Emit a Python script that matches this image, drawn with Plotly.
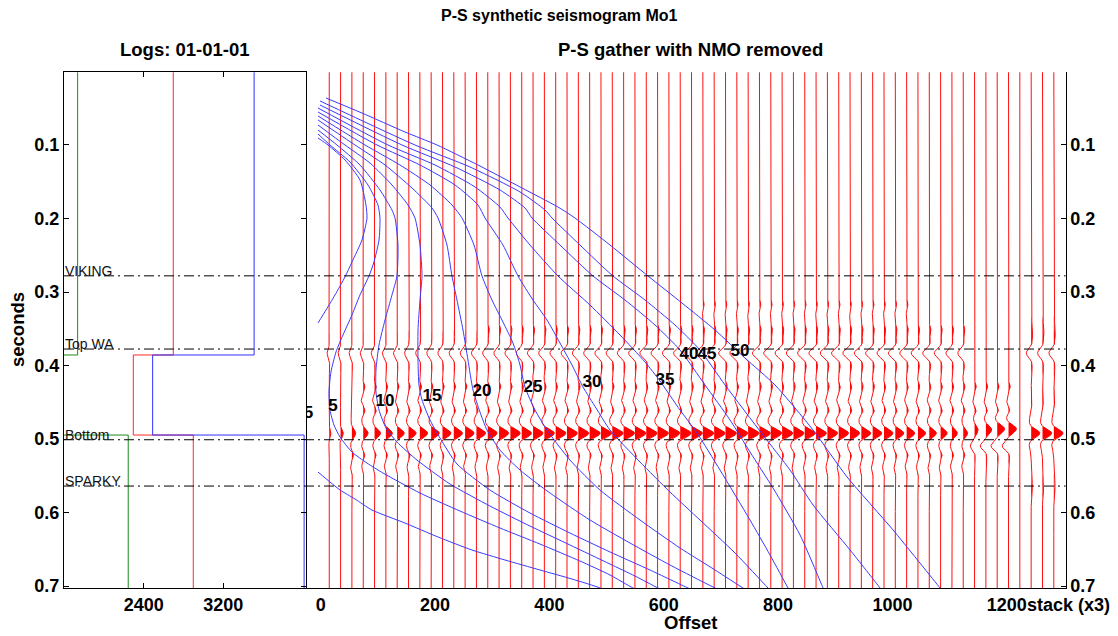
import numpy as np
import plotly.graph_objects as go

FONT = "Liberation Sans, Arial, Helvetica, sans-serif"
FIG_W, FIG_H = 1118, 636

# ---------------- shared time axis (s) ----------------
time_range = [0.7027, 0.0011]            # reversed: time grows downward
time_ticks = [0.1, 0.2, 0.3, 0.4, 0.5, 0.6, 0.7]

# ---------------- blocked well logs ----------------
log_layer_tops = [0.0, 0.3857, 0.4946]
log_end_time = 0.71
vp_log = [3509, 2490, 4011]
rho_log = [2697, 2296, 2898]
vs_log = [1737, 1450, 2245]
log_range = [1600, 4030]
log_ticks = [2400, 3200]

# ---------------- horizon picks ----------------
horizon_names = ["VIKING", "Top WA", "Bottom", "SPARKY"]
horizon_times = [0.278, 0.3776, 0.501, 0.564]

# ---------------- P-S gather ----------------
offset_range = [-24.8, 1303]
offset_ticks = [0, 200, 400, 600, 800, 1000, 1200]
gather_offsets = [
    15.0, 34.8, 54.6, 74.4, 94.2, 114.0, 133.8, 153.6, 173.4, 193.2,
    213.0, 232.8, 252.6, 272.4, 292.2, 312.0, 331.8, 351.6, 371.4, 391.2,
    411.0, 430.8, 450.6, 470.4, 490.2, 510.0, 529.8, 549.6, 569.4, 589.2,
    609.0, 628.8, 648.6, 668.4, 688.2, 708.0, 727.8, 747.6, 767.4, 787.2,
    807.0, 826.8, 846.6, 866.4, 886.2, 906.0, 925.8, 945.6, 965.4, 985.2,
    1005.0, 1024.8, 1044.6, 1064.4, 1084.2, 1104.0, 1123.8, 1143.6, 1163.4, 1183.2,
    1203.0]
blank_offsets = [1222.8]
stack_offsets = [1242.6, 1262.4, 1282.2]

# Top WA event (trough) amplitude per gather trace
top_amp = [
    0.20, 0.22, 0.25, 0.27, 0.30, 0.32, 0.34, 0.36, 0.38, 0.40,
    0.42, 0.43, 0.45, 0.46, 0.47, 0.48, 0.50, 0.50, 0.52, 0.52,
    0.53, 0.54, 0.55, 0.55, 0.56, 0.57, 0.58, 0.58, 0.59, 0.60,
    0.60, 0.61, 0.62, 0.62, 0.63, 0.63, 0.64, 0.64, 0.65, 0.65,
    0.65, 0.66, 0.66, 0.66, 0.66, 0.66, 0.66, 0.65, 0.65, 0.64,
    0.64, 0.63, 0.62, 0.60, 0.58, 0.55, 0.50, 0.0, 0.0, 0.0, 0.0]
# Bottom event (peak) amplitude per gather trace
bottom_amp = [
    0.15, 0.25, 0.35, 0.45, 0.55, 0.60, 0.65, 0.70, 0.72, 0.75,
    0.78, 0.80, 0.82, 0.84, 0.86, 0.88, 0.90, 0.90, 0.92, 0.92,
    0.94, 0.95, 0.96, 0.97, 0.98, 1.00, 1.00, 1.00, 1.00, 1.00,
    1.00, 1.00, 1.00, 1.00, 1.00, 1.00, 1.00, 1.00, 1.00, 1.00,
    0.98, 0.97, 0.96, 0.95, 0.93, 0.90, 0.88, 0.86, 0.84, 0.82,
    0.78, 0.74, 0.70, 0.65, 0.60, 0.50, 0.40, 0.30, 0.50, 0.65, 0.70]
bottom_time = [0.492] * 57 + [0.487, 0.487, 0.486, 0.486]
late_trough_amp = [0.0] * 57 + [-0.35, -0.45, -0.50, -0.50]
late_trough_time = 0.510
top_event_time = 0.383
bottom_event_time = 0.492

# weak events between/around the main reflections
minor_times = [0.316, 0.350, 0.428, 0.447, 0.462, 0.521, 0.538]
minor_amps = [0.12, 0.13, 0.15, -0.15, 0.14, 0.14, -0.12]
minor_first = [33, 14, 3, 3, 3, 2, 2]
minor_last = [51, 56, 60, 60, 60, 56, 56]

# stacked traces (x3)
stack_top_amp = [0.45, 0.45, 0.45]
stack_bottom_amp = [0.80, 0.85, 0.85]
stack_bias_times = [0.350, 0.445, 0.565]
stack_bias_amps = [0.12, 0.10, 0.12]

wiggle_gain = 19.0   # offset units per unit amplitude

# ---------------- incidence-angle contours (offset, time) ----------------
contour_5_outer_top = [
    (-4.7, 0.0905), (12.8, 0.1), (42.5, 0.1204), (68.7, 0.1476), (79.2, 0.1816),
    (81.0, 0.1993), (72.2, 0.2293), (54.7, 0.2592), (42.5, 0.2796), (25.0, 0.3041),
    (9.3, 0.3245), (-4.7, 0.3422)]
contour_5_outer_bottom = [
    (-4.7, 0.5449), (16.3, 0.5585), (33.8, 0.5694), (60.0, 0.5816), (89.7, 0.5966),
    (147.4, 0.6143), (205.2, 0.6333), (264.6, 0.6510), (322.3, 0.6646), (383.5, 0.6782),
    (439.5, 0.6905), (488.5, 0.7027), (497.0, 0.707)]
contour_5 = [
    (-4.7, 0.0850), (16.3, 0.1), (51.2, 0.1231), (82.7, 0.1544), (100.2, 0.1816),
    (103.7, 0.1993), (102.0, 0.2293), (93.2, 0.2592), (84.5, 0.2782), (68.7, 0.3041),
    (54.7, 0.3313), (39.0, 0.3585), (26.8, 0.3816), (18.0, 0.4088), (14.5, 0.4361),
    (16.3, 0.4605), (23.3, 0.4810), (33.8, 0.4973), (54.7, 0.5177), (81.0, 0.5327),
    (109.0, 0.5463), (173.7, 0.5735), (243.6, 0.5980), (313.6, 0.6211), (383.5, 0.6429),
    (453.5, 0.6660), (506.0, 0.6850), (546.2, 0.7027), (558.5, 0.707)]
contour_10 = [
    (-4.7, 0.0796), (28.5, 0.1), (68.7, 0.1272), (103.7, 0.1612), (124.7, 0.1884),
    (130.0, 0.1993), (135.2, 0.2361), (133.4, 0.2782), (124.7, 0.3041), (112.5, 0.3381),
    (102.0, 0.3721), (96.7, 0.4061), (96.7, 0.4361), (102.0, 0.4605), (114.2, 0.4850),
    (133.4, 0.5041), (168.4, 0.5286), (226.1, 0.5612), (296.1, 0.5912), (366.1, 0.6184),
    (436.0, 0.6442), (506.0, 0.6701), (549.7, 0.6864), (589.9, 0.7027), (602.2, 0.707)]
contour_15 = [
    (-4.7, 0.0728), (42.5, 0.1), (86.2, 0.1245), (124.7, 0.1544), (152.7, 0.1816),
    (164.9, 0.1993), (173.7, 0.2361), (177.2, 0.2782), (173.7, 0.3109), (170.2, 0.3517),
    (170.2, 0.3925), (171.9, 0.4265), (177.2, 0.4469), (191.2, 0.4741), (208.7, 0.4986),
    (238.4, 0.5340), (296.1, 0.5694), (366.1, 0.6007), (436.0, 0.6279), (506.0, 0.6537),
    (575.9, 0.6782), (642.4, 0.7027), (654.6, 0.707)]
contour_20 = [
    (-4.7, 0.0660), (60.0, 0.1), (112.5, 0.1272), (159.7, 0.1585), (194.7, 0.1857),
    (205.2, 0.1993), (220.9, 0.2361), (229.6, 0.2782), (238.4, 0.3109), (248.9, 0.3517),
    (257.6, 0.3925), (266.4, 0.4333), (278.6, 0.4633), (290.9, 0.4878), (313.6, 0.5150),
    (348.6, 0.5422), (401.1, 0.5735), (471.0, 0.6102), (541.0, 0.6415), (610.9, 0.6714),
    (689.7, 0.7027), (701.9, 0.707)]
contour_25 = [
    (-4.7, 0.0605), (77.5, 0.1), (138.7, 0.1272), (191.2, 0.1544), (229.6, 0.1816),
    (247.1, 0.1993), (268.1, 0.2361), (282.1, 0.2782), (299.6, 0.3109), (318.8, 0.3408),
    (336.3, 0.3694), (348.6, 0.3993), (357.3, 0.4293), (374.8, 0.4605), (395.8, 0.4878),
    (436.0, 0.5286), (488.5, 0.5694), (558.5, 0.6102), (628.4, 0.6483), (689.7, 0.6782),
    (738.6, 0.7027), (750.9, 0.7082)]
contour_30 = [
    (-4.7, 0.0551), (98.5, 0.1), (173.7, 0.1272), (234.9, 0.1544), (275.1, 0.1816),
    (287.4, 0.1993), (318.8, 0.2361), (345.1, 0.2782), (371.3, 0.3109), (395.8, 0.3381),
    (418.5, 0.3694), (439.5, 0.3993), (458.8, 0.4293), (481.5, 0.4578), (506.0, 0.4878),
    (558.5, 0.5313), (610.9, 0.5721), (663.4, 0.6102), (724.7, 0.6551), (782.4, 0.7027),
    (791.1, 0.7095)]
contour_35 = [
    (-4.7, 0.0497), (117.7, 0.1), (199.9, 0.1272), (269.9, 0.1571), (313.6, 0.1844),
    (327.6, 0.1993), (366.1, 0.2361), (415.0, 0.2782), (471.0, 0.3177), (523.5, 0.3585),
    (567.2, 0.3952), (593.4, 0.4211), (628.4, 0.4605), (658.2, 0.4918), (698.4, 0.5422),
    (750.9, 0.6102), (785.9, 0.6578), (817.4, 0.7027), (822.6, 0.7095)]
contour_40 = [
    (-1.2, 0.0456), (142.2, 0.1), (234.9, 0.1299), (313.6, 0.1612), (357.3, 0.1857),
    (369.6, 0.1993), (418.5, 0.2361), (476.3, 0.2782), (532.2, 0.3109), (584.7, 0.3449),
    (628.4, 0.3789), (672.2, 0.4265), (715.9, 0.4741), (750.9, 0.5177), (791.1, 0.5667),
    (838.4, 0.6306), (878.7, 0.7027), (884.0, 0.712)]
contour_45 = [
    (-1.2, 0.0401), (164.9, 0.1), (261.1, 0.1299), (348.6, 0.1639), (392.3, 0.1884),
    (404.6, 0.1993), (453.5, 0.2361), (511.2, 0.2782), (567.2, 0.3109), (619.7, 0.3449),
    (663.4, 0.3789), (707.2, 0.4265), (773.6, 0.4946), (820.9, 0.5422), (861.2, 0.5898),
    (925.9, 0.6510), (978.4, 0.7027), (983.6, 0.708)]
contour_50 = [
    (9.3, 0.0361), (72.2, 0.0565), (147.4, 0.0823), (203.4, 0.1), (275.1, 0.1272),
    (352.1, 0.1585), (415.0, 0.1844), (444.7, 0.1993), (506.0, 0.2361), (572.4, 0.2782),
    (631.9, 0.3150), (689.7, 0.3517), (742.1, 0.3898), (794.6, 0.4265), (861.2, 0.4878),
    (920.7, 0.5517), (1001.1, 0.6238), (1083.3, 0.7027), (1090.3, 0.7095)]

contour_label_text = ["5", "5", "10", "15", "20", "25", "30", "35", "40", "45", "50"]
contour_label_offset = [-21.5, 21.5, 112.5, 194.7, 282.1, 371.3, 474.5, 602.2, 644.1, 675.6, 733.3]
contour_label_time = [0.466, 0.4565, 0.4497, 0.4429, 0.4361, 0.4306, 0.4238, 0.4211, 0.3857, 0.3857, 0.3816]


# ---------------- helpers ----------------
def wavelet(t, t0, f, side=0.45):
    """Ricker wavelet whose side lobes are damped by `side`."""
    a = (np.pi * f * (t - t0)) ** 2
    r = (1.0 - 2.0 * a) * np.exp(-a)
    return np.where(r < 0, r * side, r)


def step_log(values):
    xs, ys = [], []
    tops = list(log_layer_tops) + [log_end_time]
    for i, v in enumerate(values):
        xs += [v, v]
        ys += [tops[i], tops[i + 1]]
    return xs, ys


t = np.linspace(0.0, 0.705, 1411)
line_x, line_y, fill_x, fill_y = [], [], [], []


def add_wiggle(x0, amp):
    x = x0 + wiggle_gain * amp
    line_x.extend(x.tolist())
    line_x.append(None)
    line_y.extend(t.tolist())
    line_y.append(None)
    pos = (amp > 0.015).astype(int)
    edges = np.flatnonzero(np.diff(np.r_[0, pos, 0]))
    for s, e in zip(edges[::2], edges[1::2]):
        seg_t = t[s:e].tolist()
        seg_x = x[s:e].tolist()
        fill_x.extend([x0] + seg_x + [x0, None])
        fill_y.extend([seg_t[0]] + seg_t + [seg_t[-1], None])


# gather traces
for k, x0 in enumerate(gather_offsets):
    a = -top_amp[k] * wavelet(t, top_event_time, 22, 0.45)
    a = a + bottom_amp[k] * wavelet(t, bottom_time[k], 24, 0.5)
    a = a + late_trough_amp[k] * wavelet(t, late_trough_time, 26, 0.4)
    for tm, am, k0, k1 in zip(minor_times, minor_amps, minor_first, minor_last):
        if k0 <= k <= k1:
            a = a + am * wavelet(t, tm, 35, 0.6)
    add_wiggle(x0, a)

# empty separator trace
for x0 in blank_offsets:
    add_wiggle(x0, np.zeros_like(t))

# stacked traces
for j, x0 in enumerate(stack_offsets):
    a = -stack_top_amp[j] * wavelet(t, top_event_time, 22, 0.45)
    a = a + stack_bottom_amp[j] * wavelet(t, bottom_event_time, 24, 0.5)
    for tm, am in zip(stack_bias_times, stack_bias_amps):
        a = a + am * np.exp(-((t - tm) / 0.012) ** 2)
    add_wiggle(x0, a)

fig = go.Figure()

# ---- left panel: logs ----
for vals, col in [(vs_log, "#1a8c1a"), (rho_log, "#ff2a2a"), (vp_log, "#3030ff")]:
    xs, ys = step_log(vals)
    fig.add_trace(go.Scatter(x=xs, y=ys, mode="lines", line=dict(color=col, width=1),
                             xaxis="x", yaxis="y", hoverinfo="skip"))

# ---- right panel: gather ----
fig.add_trace(go.Scatter(x=line_x, y=line_y, mode="lines",
                         line=dict(color="#ff1010", width=1),
                         xaxis="x2", yaxis="y2", hoverinfo="skip"))
fig.add_trace(go.Scatter(x=fill_x, y=fill_y, mode="lines", fill="toself",
                         fillcolor="#ff0000", line=dict(width=0, color="#ff0000"),
                         xaxis="x2", yaxis="y2", hoverinfo="skip"))

cx, cy = [], []
for curve in [contour_5_outer_top, contour_5_outer_bottom, contour_5, contour_10,
              contour_15, contour_20, contour_25, contour_30, contour_35,
              contour_40, contour_45, contour_50]:
    cx += [p[0] for p in curve] + [None]
    cy += [p[1] for p in curve] + [None]
fig.add_trace(go.Scatter(x=cx, y=cy, mode="lines",
                         line=dict(color="#3a3aff", width=1, shape="spline", smoothing=0.6),
                         xaxis="x2", yaxis="y2", hoverinfo="skip"))
fig.add_trace(go.Scatter(x=contour_label_offset, y=contour_label_time, mode="text",
                         text=contour_label_text, textposition="middle center",
                         textfont=dict(family=FONT, size=17, color="black", weight="bold"),
                         cliponaxis=True, xaxis="x2", yaxis="y2", hoverinfo="skip"))

tick_font = dict(family=FONT, size=18, color="black", weight="bold")
ydom = [1 - 588 / FIG_H, 1 - 72.3 / FIG_H]
left_dom = [64 / FIG_W, 306 / FIG_W]
main_dom = [306.5 / FIG_W, 1065.7 / FIG_W]

fig.update_layout(
    width=FIG_W, height=FIG_H,
    margin=dict(l=0, r=0, t=0, b=0, autoexpand=False),
    paper_bgcolor="white", plot_bgcolor="white",
    showlegend=False,
    xaxis=dict(domain=left_dom, range=log_range, tickvals=log_ticks, anchor="y",
               ticks="inside", ticklen=5, tickcolor="black", showline=True,
               linecolor="black", linewidth=1, mirror="ticks", showgrid=False,
               zeroline=False, tickfont=tick_font, automargin=False),
    yaxis=dict(domain=ydom, range=time_range, tickvals=time_ticks, anchor="x",
               ticks="inside", ticklen=5, tickcolor="black", showline=True,
               linecolor="black", linewidth=1, mirror="ticks", showgrid=False,
               zeroline=False, tickfont=tick_font, automargin=False),
    xaxis2=dict(domain=main_dom, range=offset_range, tickvals=offset_ticks, anchor="y2",
                ticks="", showline=True, linecolor="black", linewidth=1,
                showgrid=False, zeroline=False, tickfont=tick_font, automargin=False),
    yaxis2=dict(domain=ydom, range=time_range, tickvals=time_ticks, anchor="x2",
                side="right", ticks="inside", ticklen=5, tickcolor="black",
                showline=True, linecolor="black", linewidth=1, showgrid=False,
                zeroline=False, tickfont=tick_font, automargin=False),
)

# horizon picks across both panels
for name, tm in zip(horizon_names, horizon_times):
    fig.add_shape(type="line", xref="paper", yref="y", x0=64 / FIG_W, x1=1065.7 / FIG_W,
                  y0=tm, y1=tm, layer="above",
                  line=dict(color="black", width=1, dash="10px,4px,2px,4px"))
    fig.add_annotation(x=64 / FIG_W, xref="paper", y=tm, yref="y", text=name,
                       xanchor="left", yanchor="bottom", yshift=-4, showarrow=False,
                       borderpad=0, font=dict(family=FONT, size=14, color="#111111"))

title_font = dict(family=FONT, size=18.5, color="black", weight="bold")
fig.add_annotation(text="P-S synthetic seismogram Mo1", x=0.5, y=1 - 16 / FIG_H,
                   xref="paper", yref="paper", showarrow=False,
                   xanchor="center", yanchor="middle",
                   font=dict(family=FONT, size=16, color="black", weight="bold"))
fig.add_annotation(text="Logs: 01-01-01", x=185 / FIG_W, y=1 - 50 / FIG_H,
                   xref="paper", yref="paper", showarrow=False,
                   xanchor="center", yanchor="middle", font=title_font)
fig.add_annotation(text="P-S gather with NMO removed", x=690 / FIG_W, y=1 - 50 / FIG_H,
                   xref="paper", yref="paper", showarrow=False,
                   xanchor="center", yanchor="middle", font=title_font)
fig.add_annotation(text="seconds", x=17 / FIG_W, y=1 - 330 / FIG_H, textangle=-90,
                   xref="paper", yref="paper", showarrow=False,
                   xanchor="center", yanchor="middle", font=title_font)
fig.add_annotation(text="Offset", x=690 / FIG_W, y=1 - 622 / FIG_H,
                   xref="paper", yref="paper", showarrow=False,
                   xanchor="center", yanchor="middle", font=title_font)
fig.add_annotation(text="stack (x3)", x=1068 / FIG_W, y=1 - 604.5 / FIG_H,
                   xref="paper", yref="paper", showarrow=False,
                   xanchor="center", yanchor="middle", borderpad=0, font=tick_font)

fig.write_html("out.html", config={"displayModeBar": False})
